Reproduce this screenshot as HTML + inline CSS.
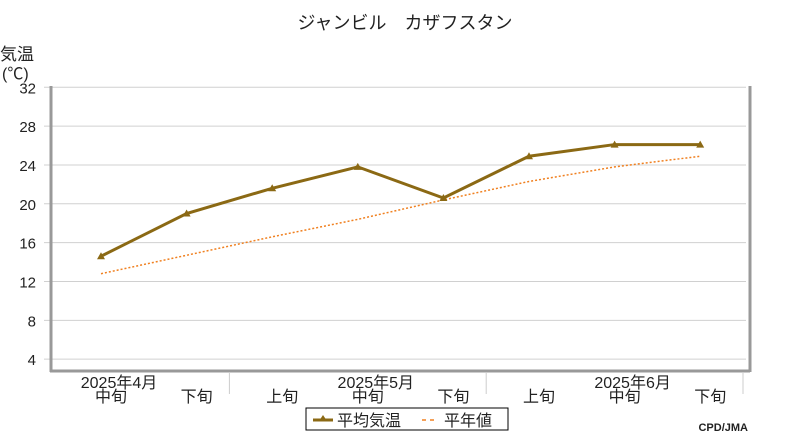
<!DOCTYPE html>
<html><head><meta charset="utf-8"><style>
body{margin:0;background:#fff;width:800px;height:440px;overflow:hidden}
svg text{font-family:"Liberation Sans","Noto Sans CJK JP",sans-serif;fill:#222}
</style></head><body>
<svg width="800" height="440">
<text x="405" y="29" font-size="18" text-anchor="middle">ジャンビル　カザフスタン</text>
<text x="0" y="60" font-size="17">気温</text>
<text x="2" y="79" font-size="16">(℃)</text>
<g id="grid"></g>
<g id="ylab"></g>
<line x1="51" y1="86" x2="51" y2="372" stroke="#999" stroke-width="3"/>
<line x1="50" y1="371" x2="750" y2="371" stroke="#999" stroke-width="3"/>
<line x1="750" y1="86" x2="750" y2="372" stroke="#999" stroke-width="3"/>
<g id="xlab"></g>
<g id="series"></g>
<g>
<rect x="306" y="408" width="202" height="22" fill="#fff" stroke="#000"/>
<g>
<line x1="313" y1="420" x2="333" y2="420" stroke="#8b6914" stroke-width="3"/>
<path d="M323 415 L327 421 L319 421Z" fill="#8b6914"/>
<text x="337" y="426" font-size="16">平均気温</text></g>
<g>
<line x1="422" y1="420" x2="436" y2="420" stroke="#f08020" stroke-width="1.5" stroke-dasharray="4,4"/>
<text x="444" y="426" font-size="16">平年値</text></g>
</g>
<text x="748" y="431" font-size="11" font-family="Liberation Mono" text-anchor="end" font-weight="bold">CPD/JMA</text>
</svg>
<script>
const yTicks=[4,8,12,16,20,24,28,32];
const xLabels=["中旬","下旬","上旬","中旬","下旬","上旬","中旬","下旬"];
const monthLabels=["2025年4月","2025年5月","2025年6月"];
const monthIndex=[0,3,6];
const avgTemp=[14.6,19.0,21.6,23.8,20.6,24.9,26.1,26.1];
const normalTemp=[12.8,14.7,16.6,18.4,20.4,22.3,23.8,24.9];
const NS="http://www.w3.org/2000/svg";
const y=v=>398-v*9.71;
const x=i=>101+i*85.6;
function mk(t,a,p){const e=document.createElementNS(NS,t);for(const k in a)e.setAttribute(k,a[k]);p.appendChild(e);return e;}
const grid=document.getElementById('grid'),ylab=document.getElementById('ylab'),xlab=document.getElementById('xlab'),ser=document.getElementById('series');
yTicks.forEach(v=>{
 const l=mk('line',{x1:44,x2:746,y1:y(v),y2:y(v),stroke:'#d0d0d0','stroke-width':1},grid);
 
 
 const t=mk('text',{x:36,y:y(v)+6,'font-size':15,'text-anchor':'end'},ylab);t.textContent=v;
 
 
});
xLabels.forEach((s,i)=>{
 const t=mk('text',{x:x(i)+10,y:402,'font-size':16,'text-anchor':'middle'},xlab);t.textContent=s;
 
 
});
monthLabels.forEach((s,j)=>{
 const t=mk('text',{x:x(monthIndex[j])+18,y:388,'font-size':16,'text-anchor':'middle'},xlab);t.textContent=s;
 
 
});
[1.5,4.5,7.5].forEach((p,j)=>{
 const l=mk('line',{x1:x(p),x2:x(p),y1:372,y2:394,stroke:'#ccc'},xlab);
 
 
});
const np=mk('polyline',{points:normalTemp.map((v,i)=>x(i)+','+y(v)).join(' '),fill:'none',stroke:'#f08020','stroke-width':1.5,'stroke-dasharray':'2,2'},ser);


const ap=mk('polyline',{points:avgTemp.map((v,i)=>x(i)+','+y(v)).join(' '),fill:'none',stroke:'#8b6914','stroke-width':3},ser);


avgTemp.forEach((v,i)=>{
 const cx=x(i),cy=y(v);
 const m=mk('path',{d:`M${cx} ${cy-4} L${cx+4} ${cy+3} L${cx-4} ${cy+3}Z`,fill:'#8b6914'},ser);
 
 
});
</script>
</body></html>
